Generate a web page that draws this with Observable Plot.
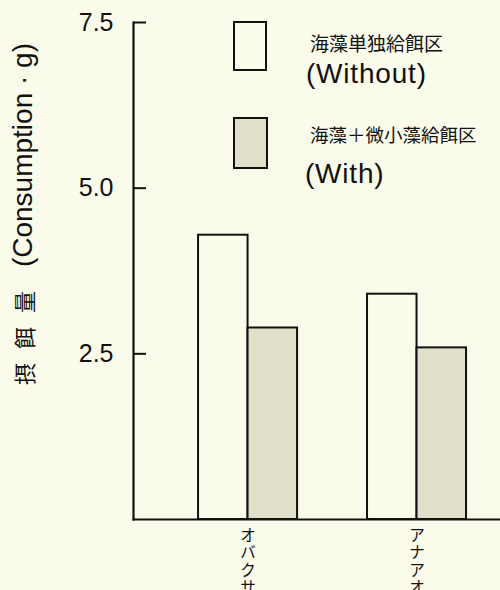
<!DOCTYPE html>
<html>
<head>
<meta charset="utf-8">
<script src="https://cdn.jsdelivr.net/npm/d3@7"></script>
<script src="https://cdn.jsdelivr.net/npm/@observablehq/plot@0.6"></script>
<style>
  html, body { margin: 0; padding: 0; background: #fbfbec; }
  #wrap { position: relative; width: 500px; height: 590px; overflow: hidden; }
  #wrap > svg { position: absolute; left: 0; top: 0; }
  .lg { position: absolute; white-space: nowrap; color: #111; line-height: 1; }
  .box { position: absolute; border: 2px solid #111; box-sizing: border-box; }
</style>
</head>
<body>
<div id="wrap"></div>
<script>
// Data
const categories = ["オバクサ", "アナアオサ"];
const treatments = ["Without", "With"];
const withoutValues = [4.29, 3.40];
const withValues = [2.89, 2.59];
const yTicks = [2.5, 5.0, 7.5];
const legendJa = ["海藻単独給餌区", "海藻＋微小藻給餌区"];
const legendEn = ["(Without)", "(With)"];
const yLabelJa = "摂餌量";
const yLabelEn = "(Consumption · g)";

const bg = "#fbfbec";
const grayFill = "#dfdfca";

const table = categories.flatMap((c, i) => [
  {cat: c, treat: "Without", value: withoutValues[i]},
  {cat: c, treat: "With", value: withValues[i]}
]);

const common = {
  width: 500,
  height: 590,
  marginTop: 22,
  marginBottom: 71,
  marginLeft: 133,
  marginRight: 0,
  y: {domain: [0, 7.5], label: null}
};

// Layer 1: axis frame (unfaceted)
const axisLayer = Plot.plot({
  ...common,
  style: {background: bg, fontFamily: "'Liberation Sans', Arial, sans-serif", color: "#111"},
  marks: [
    Plot.frame({anchor: "left", stroke: "#111", strokeWidth: 2.2}),
    Plot.frame({anchor: "bottom", stroke: "#111", strokeWidth: 2.2}),
    Plot.axisY({
      ticks: yTicks,
      tickFormat: d3.format(".1f"),
      tickSize: -13,
      tickPadding: 33,
      strokeWidth: 2,
      fontSize: 25,
      label: null
    })
  ]
});

// Layer 2: grouped bars (faceted by category)
const barLayer = Plot.plot({
  ...common,
  style: {background: "transparent", color: "#111"},
  fx: {domain: categories, paddingInner: 0.414, paddingOuter: 0.293, align: 0.657, round: false, axis: null, label: null},
  x: {domain: treatments, padding: 0, round: false, axis: null, label: null},
  y: {domain: [0, 7.5], axis: null, label: null},
  color: {domain: treatments, range: [bg, grayFill]},
  marks: [
    Plot.barY(table, {fx: "cat", x: "treat", y: "value", fill: "treat", stroke: "#111", strokeWidth: 2}),
    Plot.text(table, {
      filter: d => d.treat === "Without",
      fx: "cat",
      frameAnchor: "bottom",
      lineAnchor: "top",
      dy: 9,
      lineHeight: 1.12,
      fontSize: 15.5,
      fontFamily: "'Noto Sans CJK JP', sans-serif",
      fill: "#111",
      text: d => d.cat.split("").join("\n")
    })
  ]
});

const wrap = document.getElementById("wrap");
wrap.appendChild(axisLayer);
wrap.appendChild(barLayer);

// Y axis title (rotated)
const svg = d3.select(axisLayer);
svg.append("text")
  .attr("transform", "translate(33,385) rotate(-90)")
  .attr("text-anchor", "start")
  .attr("font-family", "'Noto Sans CJK JP', sans-serif")
  .attr("font-size", 22)
  .attr("letter-spacing", 14)
  .attr("fill", "#111")
  .text(yLabelJa);
svg.append("text")
  .attr("transform", "translate(32,43) rotate(-90)")
  .attr("text-anchor", "end")
  .attr("font-family", "'Liberation Sans', Arial, sans-serif")
  .attr("font-size", 28)
  .attr("fill", "#111")
  .text(yLabelEn);

// Legend overlay
const boxes = [
  {left: 233, top: 21, w: 34, h: 50, fill: bg},
  {left: 233, top: 117, w: 35, h: 52, fill: grayFill}
];
const jaPos = [{left: 310, top: 33}, {left: 310, top: 125}];
const jaSize = [19, 18.5];
const enPos = [{left: 306, top: 60}, {left: 305, top: 160}];
treatments.forEach((t, i) => {
  const b = document.createElement("div");
  b.className = "box";
  Object.assign(b.style, {left: boxes[i].left + "px", top: boxes[i].top + "px", width: boxes[i].w + "px", height: boxes[i].h + "px", background: boxes[i].fill});
  wrap.appendChild(b);
  const ja = document.createElement("div");
  ja.className = "lg";
  ja.textContent = legendJa[i];
  Object.assign(ja.style, {left: jaPos[i].left + "px", top: jaPos[i].top + "px", fontSize: jaSize[i] + "px", fontFamily: "'Noto Sans CJK JP', sans-serif"});
  wrap.appendChild(ja);
  const en = document.createElement("div");
  en.className = "lg";
  en.textContent = legendEn[i];
  Object.assign(en.style, {left: enPos[i].left + "px", top: enPos[i].top + "px", fontSize: "28px", letterSpacing: "0.8px", fontFamily: "'Liberation Sans', Arial, sans-serif"});
  wrap.appendChild(en);
});
</script>
</body>
</html>
